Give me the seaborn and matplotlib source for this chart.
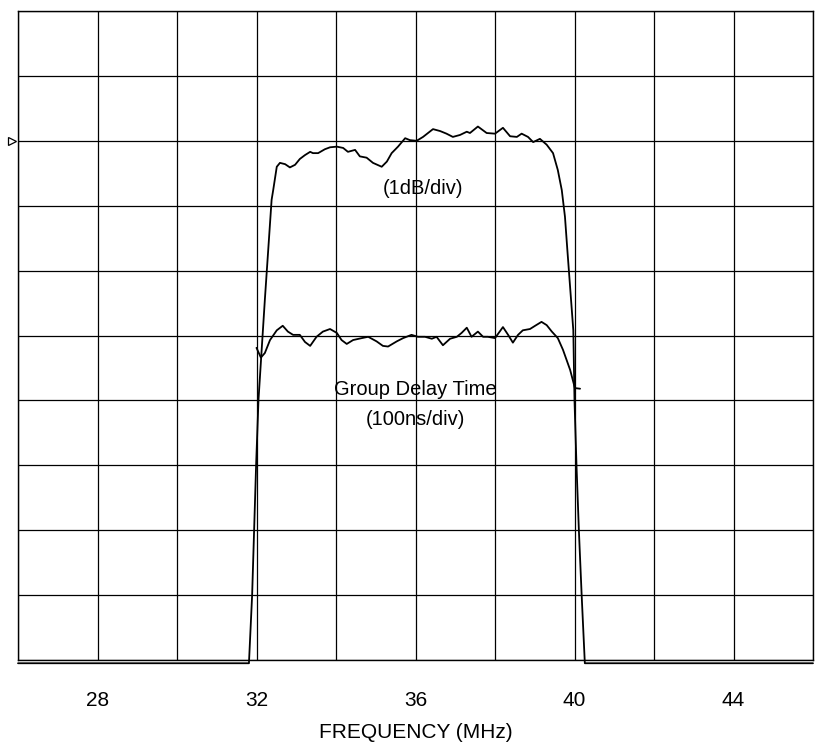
import numpy as np
import pandas as pd
import matplotlib
matplotlib.use("Agg")
import matplotlib.pyplot as plt
import seaborn as sns

# ---- data (frequency in MHz, level in grid divisions) ----
amp_freq = [26.00, 31.81, 31.89, 31.94, 31.99, 32.05, 32.21, 32.38, 32.42, 32.51,
            32.59, 32.72, 32.84, 32.97, 33.09, 33.22, 33.35, 33.42, 33.55, 33.72,
            33.85, 34.02, 34.18, 34.30, 34.48, 34.60, 34.77, 34.93, 35.15, 35.28,
            35.40, 35.56, 35.74, 35.86, 36.03, 36.19, 36.44, 36.62, 36.78, 36.94,
            37.12, 37.29, 37.37, 37.57, 37.79, 38.00, 38.20, 38.38, 38.55, 38.67,
            38.83, 38.96, 39.13, 39.30, 39.46, 39.58, 39.68, 39.76, 39.82, 39.97,
            40.00, 40.05, 40.11, 40.18, 40.26, 46.00]
amp_level = [-0.05, -0.05, 1.00, 2.00, 3.00, 4.01, 5.55, 7.09, 7.24, 7.60,
             7.66, 7.64, 7.59, 7.63, 7.72, 7.78, 7.83, 7.81, 7.81, 7.87,
             7.90, 7.91, 7.89, 7.83, 7.86, 7.76, 7.74, 7.66, 7.60, 7.68,
             7.81, 7.91, 8.04, 8.01, 8.00, 8.06, 8.18, 8.15, 8.11, 8.06,
             8.09, 8.14, 8.12, 8.22, 8.12, 8.11, 8.20, 8.07, 8.06, 8.11,
             8.06, 7.98, 8.03, 7.94, 7.81, 7.55, 7.24, 6.83, 6.32, 5.08,
             4.00, 3.00, 2.00, 1.00, -0.05, -0.05]

gd_freq = [32.00, 32.11, 32.21, 32.34, 32.51, 32.66, 32.79, 32.92, 33.09, 33.22,
           33.35, 33.51, 33.67, 33.85, 34.02, 34.14, 34.27, 34.43, 34.65, 34.81,
           35.02, 35.18, 35.31, 35.53, 35.69, 35.90, 36.06, 36.24, 36.41, 36.53,
           36.69, 36.87, 37.04, 37.16, 37.29, 37.41, 37.57, 37.70, 37.82, 38.00,
           38.20, 38.33, 38.45, 38.58, 38.70, 38.88, 39.01, 39.17, 39.30, 39.43,
           39.58, 39.71, 39.89, 40.01, 40.14]
gd_level = [4.81, 4.66, 4.73, 4.93, 5.08, 5.15, 5.06, 5.01, 5.01, 4.90,
            4.84, 4.98, 5.06, 5.10, 5.04, 4.93, 4.87, 4.93, 4.96, 4.98,
            4.91, 4.84, 4.83, 4.91, 4.96, 5.01, 4.98, 4.98, 4.95, 4.98,
            4.85, 4.95, 4.98, 5.04, 5.12, 4.98, 5.06, 4.98, 4.98, 4.96,
            5.13, 5.01, 4.89, 5.01, 5.08, 5.10, 5.15, 5.21, 5.16, 5.06,
            4.96, 4.78, 4.47, 4.19, 4.18]

x_grid = [26, 28, 30, 32, 34, 36, 38, 40, 42, 44, 46]
x_tick_labels = ["", "28", "", "32", "", "36", "", "40", "", "44", ""]
y_grid = list(range(0, 11))
ref_level = 8
x_label = "FREQUENCY (MHz)"
annotations = [("(1dB/div)", 36.19, 7.27),
               ("Group Delay Time", 35.99, 4.17),
               ("(100ns/div)", 36.01, 3.70)]

# ---- style ----
sns.set_style("white")
plt.rcParams["font.family"] = ["Liberation Sans", "DejaVu Sans"]
plt.rcParams["text.color"] = "black"
plt.rcParams["xtick.color"] = "black"
plt.rcParams["axes.labelcolor"] = "black"

fig = plt.figure(figsize=(8.15, 7.45), dpi=100)
ax = fig.add_axes([18 / 815, 85 / 745, 795 / 815, 649 / 745])

amp_df = pd.DataFrame({"freq": amp_freq, "level": amp_level})
gd_df = pd.DataFrame({"freq": gd_freq, "level": gd_level})

sns.lineplot(data=amp_df, x="freq", y="level", ax=ax, color="black",
             lw=1.3, sort=False, estimator=None)
sns.lineplot(data=gd_df, x="freq", y="level", ax=ax, color="black",
             lw=1.3, sort=False, estimator=None)
for ln in ax.lines:
    ln.set_clip_on(False)

ax.set_xlim(x_grid[0], x_grid[-1])
ax.set_ylim(y_grid[0], y_grid[-1])
ax.set_xticks(x_grid)
ax.set_xticklabels(x_tick_labels, fontsize=15, color="black")
ax.set_yticks(y_grid)
ax.set_yticklabels([])
ax.tick_params(axis="both", length=0, pad=22)
ax.grid(True, color="black", lw=0.9)
for sp in ax.spines.values():
    sp.set_color("black")
    sp.set_linewidth(1.0)
ax.set_xlabel(x_label, fontsize=15, labelpad=10, color="black")
ax.set_ylabel("")

for txt, xx, yy in annotations:
    ax.text(xx, yy, txt, ha="center", va="center", fontsize=14.5, color="black")

ax.plot([x_grid[0] - 0.15], [ref_level], marker=">", ms=6, mfc="white",
        mec="black", mew=0.9, clip_on=False, ls="none")

fig.savefig("out.png", dpi=100)
